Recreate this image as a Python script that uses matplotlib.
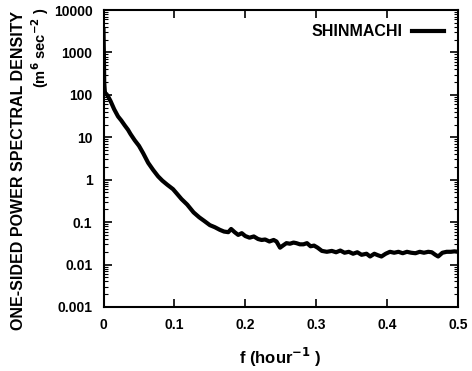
import matplotlib
matplotlib.use("Agg")
import matplotlib.pyplot as plt
from matplotlib.ticker import LogLocator, FixedLocator, NullFormatter

# Data
freq = [0.0, 0.0005, 0.001, 0.002, 0.004, 0.0063, 0.010, 0.015, 0.0205, 0.025,
        0.030, 0.0346, 0.038, 0.044, 0.050, 0.056, 0.063, 0.070, 0.077, 0.083,
        0.090, 0.098, 0.103, 0.110, 0.118, 0.127, 0.135, 0.142, 0.150, 0.157,
        0.164, 0.170, 0.176, 0.180, 0.185, 0.190, 0.195, 0.200, 0.206, 0.212,
        0.218, 0.223, 0.228, 0.234, 0.240, 0.244, 0.249, 0.253, 0.258, 0.263,
        0.268, 0.272, 0.277, 0.282, 0.287, 0.292, 0.297, 0.302, 0.308, 0.315,
        0.322, 0.328, 0.334, 0.340, 0.346, 0.352, 0.358, 0.364, 0.371, 0.376,
        0.382, 0.387, 0.392, 0.398, 0.404, 0.410, 0.416, 0.422, 0.428, 0.434,
        0.440, 0.446, 0.452, 0.458, 0.463, 0.468, 0.472, 0.478, 0.484, 0.490,
        0.495, 0.500]
psd = [3400, 1000, 200, 110, 105, 93, 71, 46, 31, 25,
       19, 15, 12, 8.5, 6.3, 4.2, 2.5, 1.7, 1.2, 0.95,
       0.76, 0.60, 0.48, 0.35, 0.26, 0.17, 0.13, 0.107, 0.085, 0.076,
       0.066, 0.060, 0.058, 0.069, 0.058, 0.050, 0.055, 0.047, 0.043, 0.046,
       0.040, 0.038, 0.039, 0.035, 0.038, 0.035, 0.025, 0.028, 0.032, 0.031,
       0.033, 0.032, 0.030, 0.030, 0.032, 0.027, 0.028, 0.025, 0.021, 0.020,
       0.021, 0.0195, 0.0214, 0.019, 0.020, 0.018, 0.0195, 0.017, 0.018, 0.0155,
       0.018, 0.0166, 0.0155, 0.018, 0.020, 0.019, 0.020, 0.0185, 0.020, 0.019,
       0.0185, 0.020, 0.019, 0.020, 0.0195, 0.017, 0.0155, 0.019, 0.020, 0.020,
       0.0205, 0.020]

xticks = [0, 0.1, 0.2, 0.3, 0.4, 0.5]
xticklabels = ["0", "0.1", "0.2", "0.3", "0.4", "0.5"]
yticks = [0.001, 0.01, 0.1, 1, 10, 100, 1000, 10000]
yticklabels = ["0.001", "0.01", "0.1", "1", "10", "100", "1000", "10000"]

plt.rcParams['font.family'] = ['Liberation Sans', 'DejaVu Sans']
plt.rcParams['font.weight'] = 'bold'

fig = plt.figure(figsize=(4.72, 3.71), dpi=100)
ax = fig.add_axes([103.5/472, 1-307/371, (458-103.5)/472, (307-10)/371])

ax.plot(freq, psd, color='black', lw=3.0, label='SHINMACHI', solid_joinstyle='round')
ax.set_yscale('log')
ax.set_xlim(0, 0.5)
ax.set_ylim(0.001, 10000)

ax.xaxis.set_major_locator(FixedLocator(xticks))
ax.set_xticklabels(xticklabels)
ax.yaxis.set_major_locator(FixedLocator(yticks))
ax.set_yticklabels(yticklabels)
ax.yaxis.set_minor_locator(LogLocator(base=10, subs=(2, 3, 4, 5, 6, 7, 8, 9)))
ax.yaxis.set_minor_formatter(NullFormatter())

ax.tick_params(which='major', direction='in', top=True, right=True, length=6, width=1.2,
               labelsize=10, pad=8)
ax.tick_params(which='minor', direction='in', left=True, right=True, length=3, width=0.8)
for lbl in ax.get_xticklabels() + ax.get_yticklabels():
    lbl.set_fontweight('bold')
for s in ax.spines.values():
    s.set_linewidth(1.5)

leg = ax.legend(loc='upper right', markerfirst=False, frameon=False,
                handlelength=2.0, handletextpad=0.6, borderaxespad=0.5,
                prop={'weight': 'bold', 'size': 11.5})

ax.set_xlabel('f (hour$^{\\mathbf{-1}}$ )', fontsize=12, fontweight='bold', labelpad=10)
fig.text(19/472, 1-170/371, 'ONE-SIDED POWER SPECTRAL DENSITY', rotation=90,
         ha='center', va='center', fontsize=11.5, fontweight='bold')
fig.text(40/472, 1-48/371, '(m$^{\\mathbf{6}}$ sec$^{\\mathbf{-2}}$ )', rotation=90,
         ha='center', va='center', fontsize=10.5, fontweight='bold')

fig.savefig('out.png', dpi=100)
